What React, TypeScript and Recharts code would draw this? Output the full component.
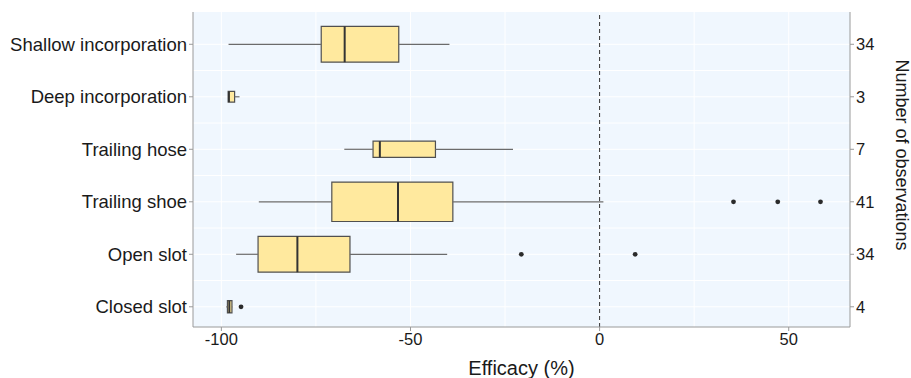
import React from 'react';
import {
  ComposedChart,
  XAxis,
  YAxis,
  CartesianGrid,
  ReferenceArea,
  ReferenceLine,
  Scatter,
  Label,
} from 'recharts';

// Application techniques, top to bottom
const categories = [
  'Shallow incorporation',
  'Deep incorporation',
  'Trailing hose',
  'Trailing shoe',
  'Open slot',
  'Closed slot',
];
const counts = [34, 3, 7, 41, 34, 4];

// box plot stats (efficacy, %)
const whiskerLow = [-98.1, -98.2, -67.5, -90.1, -96.1, -98.7];
const q1 = [-73.6, -98.2, -59.9, -70.8, -90.3, -98.4];
const median = [-67.4, -98.0, -58.1, -53.3, -79.9, -97.9];
const q3 = [-53.1, -96.5, -43.4, -38.8, -66.0, -97.2];
const whiskerHigh = [-39.7, -95.2, -22.9, 1.0, -40.3, -97.1];

const outlierCat = [3, 3, 3, 4, 4, 5];
const outlierVal = [35.4, 47.1, 58.4, -20.7, 9.4, -94.8];

const xTicks = [-100, -50, 0, 50];
const xGrid = [-100, -75, -50, -25, 0, 25, 50];

const FONT = '"Liberation Sans", Arial, Helvetica, sans-serif';
const maxN = Math.max(...counts);

const boxes = categories.map((name, i) => ({
  name,
  i,
  lo: whiskerLow[i],
  q1: q1[i],
  med: median[i],
  q3: q3[i],
  hi: whiskerHigh[i],
  // ggplot varwidth: 0.75 * sqrt(n / max n)
  half: (0.75 * Math.sqrt(counts[i] / maxN)) / 2,
}));

const outliers = outlierCat.map((c, k) => ({ i: c, v: outlierVal[k] }));

const yGrid = [0, 0.5, 1, 1.5, 2, 2.5, 3, 3.5, 4, 4.5, 5];

const RightTitle = (props: any) => {
  const { viewBox } = props;
  const x = viewBox.x + 52;
  const y = 155;
  return (
    <text
      x={x}
      y={y}
      transform={`rotate(90, ${x}, ${y})`}
      textAnchor="middle"
      dominantBaseline="central"
      fontFamily={FONT}
      fontSize={18}
      fill="#1a1a1a"
    >
      Number of observations
    </text>
  );
};

export default function App() {
  return (
    <div style={{ position: 'absolute', left: 0, top: 0 }}>
      <ComposedChart
        width={911}
        height={378}
        margin={{ top: 12, right: 0, bottom: 0, left: 0 }}
      >
        <CartesianGrid
          yAxisId="cat"
          fill="#F0F7FE"
          stroke="#ffffff"
          strokeWidth={1}
          verticalValues={xGrid}
          horizontalValues={yGrid}
        />
        <XAxis
          dataKey="v"
          type="number"
          domain={[-107.5, 66.2]}
          allowDataOverflow
          ticks={xTicks}
          tickSize={4}
          height={51}
          stroke="#9a9a9a"
          tick={{ fill: '#1a1a1a', fontSize: 16.5, fontFamily: FONT }}
        >
          <Label
            value="Efficacy (%)"
            position="insideBottom"
            offset={3}
            style={{ fontSize: 20, fontFamily: FONT, fill: '#1a1a1a' }}
          />
        </XAxis>
        <XAxis
          xAxisId="top"
          orientation="top"
          type="number"
          domain={[-107.5, 66.2]}
          height={0}
          tick={false}
          tickLine={false}
          stroke="#9a9a9a"
        />
        <YAxis
          yAxisId="cat"
          dataKey="i"
          type="number"
          reversed
          domain={[-0.615, 5.385]}
          allowDataOverflow
          ticks={[0, 1, 2, 3, 4, 5]}
          interval={0}
          tickFormatter={(i: number) => categories[i]}
          width={193}
          tickSize={4}
          stroke="#9a9a9a"
          tick={{ fill: '#1a1a1a', fontSize: 18.5, fontFamily: FONT }}
        />
        <YAxis
          yAxisId="n"
          orientation="right"
          type="number"
          reversed
          domain={[-0.615, 5.385]}
          allowDataOverflow
          ticks={[0, 1, 2, 3, 4, 5]}
          interval={0}
          tickFormatter={(i: number) => String(counts[i])}
          width={61}
          tickSize={4}
          stroke="#9a9a9a"
          tick={{ fill: '#1a1a1a', fontSize: 16.5, fontFamily: FONT }}
        >
          <Label content={<RightTitle />} />
        </YAxis>

        <ReferenceLine
          yAxisId="cat"
          x={0}
          stroke="#333"
          strokeWidth={1}
          strokeDasharray="4 3"
        />

        {boxes.map((b) => (
          <ReferenceLine
            key={`wl-${b.i}`}
            yAxisId="cat"
            segment={[
              { x: b.lo, y: b.i },
              { x: b.q1, y: b.i },
            ]}
            stroke="#6b6b6b"
            strokeWidth={1.2}
            ifOverflow="visible"
          />
        ))}
        {boxes.map((b) => (
          <ReferenceLine
            key={`wh-${b.i}`}
            yAxisId="cat"
            segment={[
              { x: b.q3, y: b.i },
              { x: b.hi, y: b.i },
            ]}
            stroke="#6b6b6b"
            strokeWidth={1.2}
            ifOverflow="visible"
          />
        ))}
        {boxes.map((b) => (
          <ReferenceArea
            key={`box-${b.i}`}
            yAxisId="cat"
            x1={b.q1}
            x2={b.q3}
            y1={b.i - b.half}
            y2={b.i + b.half}
            fill="#FFE99E"
            fillOpacity={1}
            stroke="#505050"
            strokeWidth={1.2}
            ifOverflow="visible"
          />
        ))}
        {boxes.map((b) => (
          <ReferenceLine
            key={`med-${b.i}`}
            yAxisId="cat"
            segment={[
              { x: b.med, y: b.i - b.half },
              { x: b.med, y: b.i + b.half },
            ]}
            stroke="#333"
            strokeWidth={2}
            ifOverflow="visible"
          />
        ))}

        <Scatter
          yAxisId="cat"
          data={outliers}
          dataKey="i"
          isAnimationActive={false}
          shape={(p: any) => <circle cx={p.cx} cy={p.cy} r={2.4} fill="#2b2b2b" />}
        />
      </ComposedChart>
    </div>
  );
}
